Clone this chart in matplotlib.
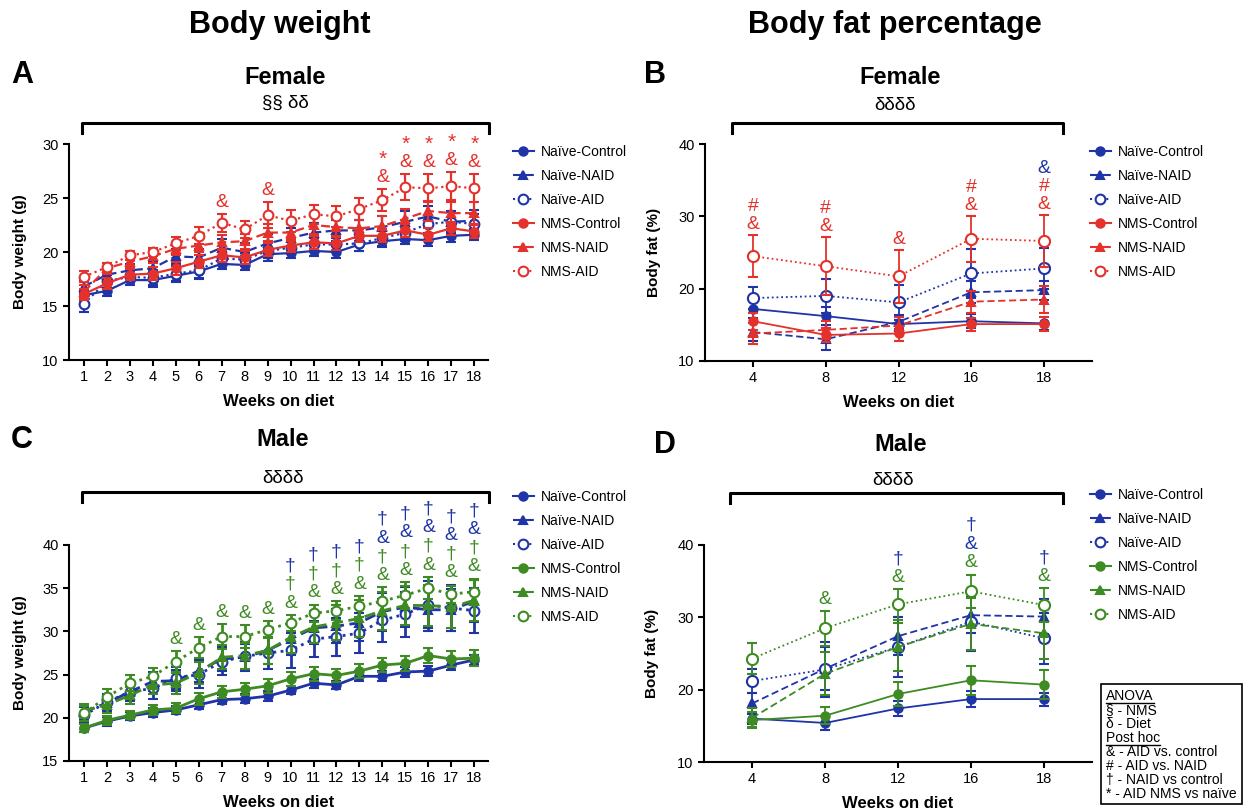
import matplotlib.pyplot as plt
from matplotlib.lines import Line2D
from matplotlib.patches import Rectangle

plt.rcParams['font.family'] = ['Liberation Sans', 'DejaVu Sans']

BLUE = "#1f34a6"
RED = "#e4312c"
GREEN = "#3d8b22"

groups = ["Naïve-Control", "Naïve-NAID", "Naïve-AID", "NMS-Control", "NMS-NAID", "NMS-AID"]
weeks_bw = list(range(1, 19))
weeks_fat = ["4", "8", "12", "16", "18"]

# A: female body weight (g)
fbw_naive_ctrl = [16.0, 16.4, 17.4, 17.4, 17.8, 18.2, 18.9, 18.8, 19.8, 19.9, 20.1, 20.0, 20.7, 21.0, 21.2, 21.1, 21.5, 21.6]
fbw_naive_naid = [16.8, 17.9, 18.3, 18.5, 19.6, 19.5, 20.4, 20.0, 20.8, 21.3, 21.8, 22.0, 22.0, 22.3, 22.8, 23.3, 22.8, 22.9]
fbw_naive_aid = [15.2, 17.3, 17.7, 17.6, 18.0, 18.3, 19.4, 19.3, 20.1, 20.4, 20.7, 20.7, 20.8, 21.3, 21.8, 22.6, 22.8, 22.6]
fbw_nms_ctrl = [16.1, 17.1, 17.9, 18.0, 18.5, 19.1, 19.7, 19.5, 20.2, 20.6, 20.9, 20.8, 21.5, 21.5, 22.0, 21.6, 22.2, 21.9]
fbw_nms_naid = [16.3, 18.5, 19.1, 19.6, 20.3, 20.6, 20.9, 21.0, 21.8, 21.8, 22.5, 22.3, 22.2, 22.4, 23.1, 23.8, 23.6, 23.6]
fbw_nms_aid = [17.7, 18.6, 19.7, 20.0, 20.8, 21.5, 22.7, 22.1, 23.4, 22.9, 23.5, 23.3, 24.0, 24.8, 26.0, 25.9, 26.1, 25.9]
fbw_err_naive_ctrl = [0.5, 0.5, 0.5, 0.6, 0.6, 0.6, 0.5, 0.5, 0.6, 0.5, 0.5, 0.6, 0.6, 0.5, 0.5, 0.5, 0.6, 0.5]
fbw_err_naive_naid = [0.6, 0.6, 0.6, 0.7, 0.7, 0.8, 0.8, 0.8, 0.9, 0.9, 0.9, 1.0, 1.0, 1.0, 1.0, 1.0, 1.0, 1.0]
fbw_err_naive_aid = [0.8, 0.6, 0.5, 0.7, 0.7, 0.8, 0.6, 0.6, 0.7, 0.6, 0.6, 0.6, 0.7, 0.7, 0.8, 0.8, 0.9, 0.9]
fbw_err_nms_ctrl = [0.5, 0.5, 0.5, 0.6, 0.6, 0.6, 0.6, 0.6, 0.6, 0.6, 0.6, 0.6, 0.6, 0.6, 0.6, 0.6, 0.6, 0.6]
fbw_err_nms_naid = [0.6, 0.5, 0.6, 0.6, 0.6, 0.6, 0.7, 0.7, 0.8, 0.8, 0.8, 0.8, 0.8, 0.9, 0.9, 0.9, 1.0, 1.0]
fbw_err_nms_aid = [0.5, 0.4, 0.4, 0.4, 0.6, 0.8, 0.8, 0.8, 1.2, 1.0, 0.9, 1.0, 1.0, 1.0, 1.2, 1.3, 1.3, 1.3]

# B: female body fat (%)
ffat_naive_ctrl = [17.2, 16.2, 15.1, 15.5, 15.2]
ffat_naive_naid = [14.0, 13.0, 15.4, 19.5, 19.8]
ffat_naive_aid = [18.7, 19.0, 18.1, 22.1, 22.8]
ffat_nms_ctrl = [15.5, 13.6, 13.8, 15.1, 15.1]
ffat_nms_naid = [13.8, 14.3, 14.9, 18.2, 18.5]
ffat_nms_aid = [24.5, 23.1, 21.7, 26.9, 26.6]
ffat_err_naive_ctrl = [1.3, 1.2, 1.0, 1.0, 0.9]
ffat_err_naive_naid = [1.2, 1.5, 1.0, 1.5, 1.3]
ffat_err_naive_aid = [1.5, 2.4, 2.4, 3.4, 2.8]
ffat_err_nms_ctrl = [1.2, 1.0, 1.0, 0.9, 1.0]
ffat_err_nms_naid = [1.5, 1.2, 1.2, 1.5, 1.8]
ffat_err_nms_aid = [2.9, 4.0, 3.7, 3.2, 3.6]

# C: male body weight (g)
mbw_naive_ctrl = [18.8, 19.6, 20.2, 20.6, 20.9, 21.5, 22.1, 22.2, 22.5, 23.2, 24.0, 23.8, 24.8, 24.8, 25.3, 25.4, 26.1, 26.7]
mbw_naive_naid = [20.7, 21.7, 23.0, 24.2, 24.3, 25.4, 26.8, 27.0, 27.8, 29.1, 30.4, 30.6, 31.0, 32.3, 32.8, 32.5, 32.5, 33.5]
mbw_naive_aid = [20.3, 21.8, 23.0, 23.4, 24.6, 25.0, 26.5, 27.1, 27.5, 27.8, 29.1, 29.4, 29.8, 31.3, 32.0, 33.1, 32.7, 32.4]
mbw_nms_ctrl = [18.8, 19.7, 20.3, 20.9, 21.1, 22.2, 23.0, 23.3, 23.7, 24.5, 25.1, 24.9, 25.4, 26.1, 26.3, 27.2, 26.8, 26.9]
mbw_nms_naid = [20.8, 21.5, 22.6, 23.8, 24.0, 25.2, 27.0, 27.2, 27.8, 29.3, 30.5, 31.0, 31.5, 32.4, 33.0, 33.0, 32.8, 33.6]
mbw_nms_aid = [20.5, 22.4, 24.0, 24.8, 26.5, 28.1, 29.4, 29.4, 30.2, 31.0, 32.1, 32.4, 32.9, 33.5, 34.2, 35.0, 34.3, 34.6]
mbw_err_naive_ctrl = [0.5, 0.5, 0.5, 0.5, 0.5, 0.5, 0.5, 0.5, 0.6, 0.5, 0.5, 0.5, 0.6, 0.6, 0.6, 0.6, 0.6, 0.6]
mbw_err_naive_naid = [0.8, 0.9, 1.0, 1.1, 1.2, 1.3, 1.4, 1.5, 1.6, 1.8, 1.9, 2.0, 2.1, 2.2, 2.3, 2.4, 2.4, 2.4]
mbw_err_naive_aid = [0.9, 1.0, 1.1, 1.2, 1.3, 1.5, 1.6, 1.7, 1.8, 2.0, 2.1, 2.2, 2.3, 2.5, 2.6, 2.7, 2.7, 2.6]
mbw_err_nms_ctrl = [0.5, 0.5, 0.5, 0.6, 0.6, 0.7, 0.7, 0.7, 0.8, 0.8, 0.8, 0.8, 0.8, 0.8, 0.9, 0.9, 0.9, 0.9]
mbw_err_nms_naid = [0.8, 0.9, 1.0, 1.1, 1.2, 1.3, 1.4, 1.5, 1.6, 1.8, 1.9, 2.0, 2.1, 2.2, 2.3, 2.4, 2.4, 2.4]
mbw_err_nms_aid = [0.9, 0.9, 0.9, 1.0, 1.2, 1.2, 1.4, 1.3, 1.0, 0.9, 1.0, 1.1, 1.2, 1.6, 1.5, 1.3, 1.0, 1.5]

# D: male body fat (%)
mfat_naive_ctrl = [16.0, 15.4, 17.4, 18.7, 18.7]
mfat_naive_naid = [18.1, 22.9, 27.4, 30.3, 30.1]
mfat_naive_aid = [21.2, 22.8, 25.9, 29.4, 27.1]
mfat_nms_ctrl = [15.8, 16.4, 19.4, 21.3, 20.7]
mfat_nms_naid = [16.1, 22.2, 25.9, 29.1, 27.8]
mfat_nms_aid = [24.3, 28.5, 31.8, 33.6, 31.7]
mfat_err_naive_ctrl = [0.8, 1.0, 1.0, 1.1, 0.9]
mfat_err_naive_naid = [1.5, 3.0, 2.6, 2.5, 2.4]
mfat_err_naive_aid = [1.6, 3.8, 4.2, 4.1, 3.5]
mfat_err_nms_ctrl = [1.1, 1.2, 1.6, 2.0, 2.0]
mfat_err_nms_naid = [1.3, 3.0, 3.3, 3.6, 3.5]
mfat_err_nms_aid = [2.2, 2.4, 2.1, 2.3, 2.3]

# significance marks: x value -> symbols from bottom to top
marks_a = {7: [("&", RED)], 9: [("&", RED)], 14: [("&", RED), ("*", RED)],
           15: [("&", RED), ("*", RED)], 16: [("&", RED), ("*", RED)],
           17: [("&", RED), ("*", RED)], 18: [("&", RED), ("*", RED)]}
marks_b = {0: [("&", RED), ("#", RED)], 1: [("&", RED), ("#", RED)], 2: [("&", RED)],
           3: [("&", RED), ("#", RED)], 4: [("&", RED), ("#", RED), ("&", BLUE)]}
marks_c = {}
for w in range(5, 10):
    marks_c[w] = [("&", GREEN)]
for w in range(10, 14):
    marks_c[w] = [("&", GREEN), ("†", GREEN), ("†", BLUE)]
for w in range(14, 19):
    marks_c[w] = [("&", GREEN), ("†", GREEN), ("&", BLUE), ("†", BLUE)]
marks_d = {1: [("&", GREEN)], 2: [("&", GREEN), ("†", BLUE)],
           3: [("&", GREEN), ("&", BLUE), ("†", BLUE)], 4: [("&", GREEN), ("†", BLUE)]}

styles = [("-", "o", True), ((0, (4, 2)), "^", True), ((0, (1, 1.6)), "o", False)] * 2


def draw_panel(ax, x, means, errs, colors, lw, ms_open, ms_fill, marks, off, step):
    for i, (m, e) in enumerate(zip(means, errs)):
        ls, mk, filled = styles[i]
        c = colors[i]
        ax.errorbar(x, m, yerr=e, color=c, ls=ls, lw=lw, marker=mk,
                    ms=ms_fill if filled else ms_open,
                    mfc=c if filled else "white", mec=c, mew=1.5,
                    capsize=3.5, capthick=lw, elinewidth=lw,
                    zorder=3 + i, clip_on=False)
    for k, syms in marks.items():
        idx = x.index(k)
        base = max(m[idx] + e[idx] for m, e in zip(means, errs))
        for j, (s, c) in enumerate(syms):
            ax.annotate(s, xy=(x[idx], base), xytext=(0, off + j * step),
                        textcoords="offset points", ha="center", va="center",
                        fontsize=15 if s == "*" else 14, color=c,
                        annotation_clip=False)
    for sp in ["top", "right"]:
        ax.spines[sp].set_visible(False)
    for sp in ["left", "bottom"]:
        ax.spines[sp].set_linewidth(1.5)
    ax.tick_params(width=1.5, length=4, labelsize=10.5)
    ax.set_xlabel("Weeks on diet", fontsize=12, fontweight="bold", labelpad=7)


def add_legend(fig, colors, x, y):
    handles = []
    for i, g in enumerate(groups):
        ls, mk, filled = styles[i]
        handles.append(Line2D([], [], color=colors[i], ls=ls, lw=1.5, marker=mk,
                              ms=6 if filled else 7, mfc=colors[i] if filled else "white",
                              mec=colors[i], mew=1.5))
    fig.legend(handles, groups, loc="upper left", bbox_to_anchor=(x, y),
               frameon=False, fontsize=10, handlelength=1.5, handletextpad=0.5,
               labelspacing=0.72, borderpad=0, borderaxespad=0)


def bracket(fig, x0, x1, y, drop=0.012):
    fig.add_artist(Line2D([x0, x0, x1, x1], [y - drop, y, y, y - drop],
                          color="black", lw=2.2, transform=fig.transFigure))


fig = plt.figure(figsize=(12.45, 8.11), dpi=100)

cols_f = [BLUE, BLUE, BLUE, RED, RED, RED]
cols_m = [BLUE, BLUE, BLUE, GREEN, GREEN, GREEN]
xb = list(range(5))

ax_a = fig.add_axes([0.0554, 0.5561, 0.3366, 0.2663])
draw_panel(ax_a, weeks_bw,
           [fbw_naive_ctrl, fbw_naive_naid, fbw_naive_aid, fbw_nms_ctrl, fbw_nms_naid, fbw_nms_aid],
           [fbw_err_naive_ctrl, fbw_err_naive_naid, fbw_err_naive_aid, fbw_err_nms_ctrl, fbw_err_nms_naid, fbw_err_nms_aid],
           cols_f, 1.6, 7, 6, marks_a, 8.5, 13)
ax_a.set_xlim(0.35, 18.6)
ax_a.set_ylim(10, 30)
ax_a.set_xticks(weeks_bw)
ax_a.set_yticks([10, 15, 20, 25, 30])
ax_a.set_ylabel("Body weight (g)", fontsize=11, fontweight="bold")

ax_b = fig.add_axes([0.5663, 0.5549, 0.3108, 0.2675])
draw_panel(ax_b, xb,
           [ffat_naive_ctrl, ffat_naive_naid, ffat_naive_aid, ffat_nms_ctrl, ffat_nms_naid, ffat_nms_aid],
           [ffat_err_naive_ctrl, ffat_err_naive_naid, ffat_err_naive_aid, ffat_err_nms_ctrl, ffat_err_nms_naid, ffat_err_nms_aid],
           cols_f, 1.3, 8, 6, marks_b, 7.5, 13)
ax_b.set_xlim(-0.66, 4.66)
ax_b.set_ylim(10, 40)
ax_b.set_xticks(xb, weeks_fat)
ax_b.set_yticks([10, 20, 30, 40])
ax_b.set_ylabel("Body fat (%)", fontsize=11, fontweight="bold")

ax_c = fig.add_axes([0.0554, 0.0617, 0.3366, 0.2663])
draw_panel(ax_c, weeks_bw,
           [mbw_naive_ctrl, mbw_naive_naid, mbw_naive_aid, mbw_nms_ctrl, mbw_nms_naid, mbw_nms_aid],
           [mbw_err_naive_ctrl, mbw_err_naive_naid, mbw_err_naive_aid, mbw_err_nms_ctrl, mbw_err_nms_naid, mbw_err_nms_aid],
           cols_m, 2.0, 7, 6, marks_c, 8.5, 13.5)
ax_c.set_xlim(0.35, 18.6)
ax_c.set_ylim(15, 40)
ax_c.set_xticks(weeks_bw)
ax_c.set_yticks([15, 20, 25, 30, 35, 40])
ax_c.set_ylabel("Body weight (g)", fontsize=11, fontweight="bold")

ax_d = fig.add_axes([0.5655, 0.0604, 0.3116, 0.2676])
draw_panel(ax_d, xb,
           [mfat_naive_ctrl, mfat_naive_naid, mfat_naive_aid, mfat_nms_ctrl, mfat_nms_naid, mfat_nms_aid],
           [mfat_err_naive_ctrl, mfat_err_naive_naid, mfat_err_naive_aid, mfat_err_nms_ctrl, mfat_err_nms_naid, mfat_err_nms_aid],
           cols_m, 1.3, 8, 6, marks_d, 8.5, 13.5)
ax_d.set_xlim(-0.66, 4.66)
ax_d.set_ylim(10, 40)
ax_d.set_xticks(xb, weeks_fat)
ax_d.set_yticks([10, 20, 30, 40])
ax_d.set_ylabel("Body fat (%)", fontsize=11, fontweight="bold")

for ax in (ax_a, ax_c):
    ax.yaxis.set_label_coords(-0.1, 0.5)
for ax in (ax_b, ax_d):
    ax.yaxis.set_label_coords(-0.115, 0.5)

# headings
fig.text(0.225, 0.969, "Body weight", fontsize=22, fontweight="bold", ha="center", va="center")
fig.text(0.719, 0.969, "Body fat percentage", fontsize=22, fontweight="bold", ha="center", va="center")
for letter, lx, ly in [("A", 0.0177, 0.9075), ("B", 0.526, 0.9075), ("C", 0.0177, 0.4575), ("D", 0.534, 0.4513)]:
    fig.text(lx, ly, letter, fontsize=22, fontweight="bold", ha="center", va="center")
for sub, sx, sy in [("Female", 0.229, 0.905), ("Female", 0.723, 0.905), ("Male", 0.2273, 0.4575), ("Male", 0.723, 0.4525)]:
    fig.text(sx, sy, sub, fontsize=17, fontweight="bold", ha="center", va="center")
for txt, tx, ty in [("§§ δδ", 0.229, 0.873), ("δδδδ", 0.719, 0.8705), ("δδδδ", 0.2273, 0.4106), ("δδδδ", 0.717, 0.408)]:
    fig.text(tx, ty, txt, fontsize=13.5, ha="center", va="center")

bracket(fig, 0.0659, 0.3928, 0.8483)
bracket(fig, 0.588, 0.8538, 0.8483)
bracket(fig, 0.0659, 0.3928, 0.3933)
bracket(fig, 0.5863, 0.8538, 0.392)

add_legend(fig, cols_f, 0.412, 0.8215)
add_legend(fig, cols_f, 0.8755, 0.8215)
add_legend(fig, cols_m, 0.412, 0.396)
add_legend(fig, cols_m, 0.8755, 0.398)

# key box
fig.add_artist(Rectangle((0.8843, 1 - 804 / 811), 0.1133, 120 / 811, transform=fig.transFigure,
                         fill=False, lw=1.2, ec="black"))
key_lines = ["ANOVA", "§ - NMS", "δ - Diet", "Post hoc", "& - AID vs. control",
             "# - AID vs. NAID", "† - NAID vs control", "* - AID NMS vs naïve"]
renderer = fig.canvas.get_renderer()
for i, line in enumerate(key_lines):
    yy = 1 - (695.5 + i * 14.1) / 811
    t = fig.text(1106 / 1245, yy, line, fontsize=10, ha="left", va="center")
    if line in ("ANOVA", "Post hoc"):
        bb = t.get_window_extent(renderer).transformed(fig.transFigure.inverted())
        fig.add_artist(Line2D([bb.x0, bb.x1], [bb.y0 - 0.0005, bb.y0 - 0.0005], color="black",
                              lw=1, transform=fig.transFigure))

fig.savefig("out.png", dpi=100)
